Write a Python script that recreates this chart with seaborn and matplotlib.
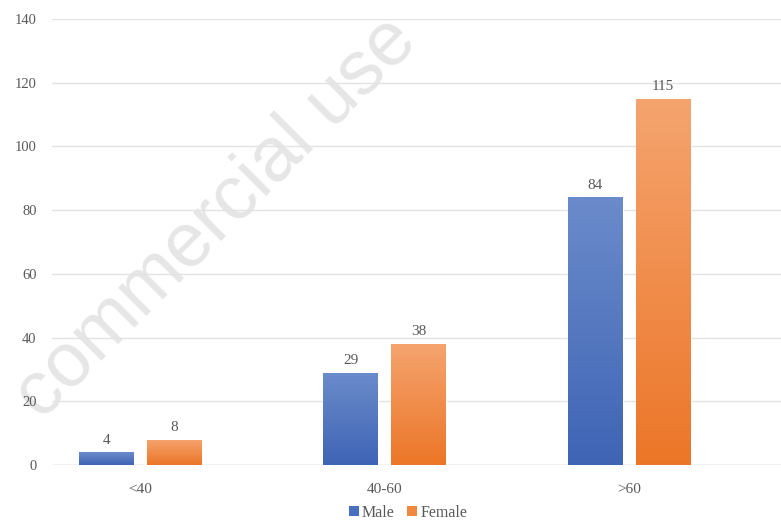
import numpy as np
import pandas as pd
import matplotlib
matplotlib.use("Agg")
import matplotlib.pyplot as plt
import seaborn as sns
from matplotlib.colors import LinearSegmentedColormap
from matplotlib.patches import Patch

age_groups = ["<40", "40-60", ">60"]
male = [4, 29, 84]
female = [8, 38, 115]
series = ["Male", "Female"]
y_ticks = [0, 20, 40, 60, 80, 100, 120, 140]

df = pd.DataFrame({
    "Age": age_groups * 2,
    "Sex": ["Male"] * 3 + ["Female"] * 3,
    "Count": male + female,
})

sns.set_theme(style="white")
plt.rcParams["font.family"] = ["Liberation Serif", "DejaVu Serif"]

text_color = "#595959"
base_colors = {"Male": "#4a6fbe", "Female": "#f0883f"}
grad = {
    "Male": ("#3e64b4", "#6b8bcb"),
    "Female": ("#ec7628", "#f5a46f"),
}

fig = plt.figure(figsize=(7.81, 5.21), dpi=100)
ax = fig.add_axes([52 / 781, 56 / 521, (781 - 52) / 781, (465 - 19) / 521])
ax.patch.set_alpha(0)

sns.barplot(data=df, x="Age", y="Count", hue="Sex", hue_order=series,
            palette=base_colors, width=0.555, gap=0.19, ax=ax, legend=False,
            saturation=1)

ax.set_xlim(-0.36, 2.62)
ax.set_ylim(0, 140)
ax.set_yticks(y_ticks)
ax.set_yticklabels([str(t) for t in y_ticks])
ax.grid(axis="y", color="#e3e3e3", linewidth=1.0)
ax.set_axisbelow(True)
for s in ax.spines.values():
    s.set_visible(False)
ax.axhline(0, color="#d9d9d9", linewidth=1.0, zorder=1)
ax.set_xlabel("")
ax.set_ylabel("")
ax.tick_params(axis="both", length=0, colors=text_color)
ax.tick_params(axis="x", labelsize=11, pad=13)
ax.tick_params(axis="y", labelsize=10.5, pad=11)

# vertical gradient fill on each bar
for container, name in zip(ax.containers, series):
    cmap = LinearSegmentedColormap.from_list(name, list(grad[name]))
    for patch in container:
        x0, y0 = patch.get_x(), patch.get_y()
        w, h = patch.get_width(), patch.get_height()
        g = np.linspace(0, 1, 256).reshape(-1, 1)
        im = ax.imshow(g, cmap=cmap, aspect="auto", origin="lower",
                       extent=[x0, x0 + w, y0, y0 + h], zorder=patch.get_zorder() + 0.1)
        im.set_clip_path(patch)
    ax.bar_label(container, padding=4, fontsize=11, color=text_color)

ax.set_xlim(-0.36, 2.62)
ax.set_ylim(0, 140)

# legend
handles = [Patch(facecolor=base_colors[s], edgecolor="none") for s in series]
fig.legend(handles, series, loc="center", bbox_to_anchor=(408 / 781, 1 - 513 / 521),
           ncol=2, frameon=False, fontsize=11.5, handlelength=0.6, handleheight=0.6,
           handletextpad=0.2, columnspacing=0.8, labelcolor=text_color,
           borderpad=0.1)

# faint diagonal watermark, kept behind the chart
fig.text(217 / 781, 1 - 218 / 521, "commercial use", rotation=45,
         ha="center", va="center", fontsize=55, color="#e6e6e6",
         family="Liberation Sans", zorder=-1)

fig.savefig("out.png", dpi=100)
